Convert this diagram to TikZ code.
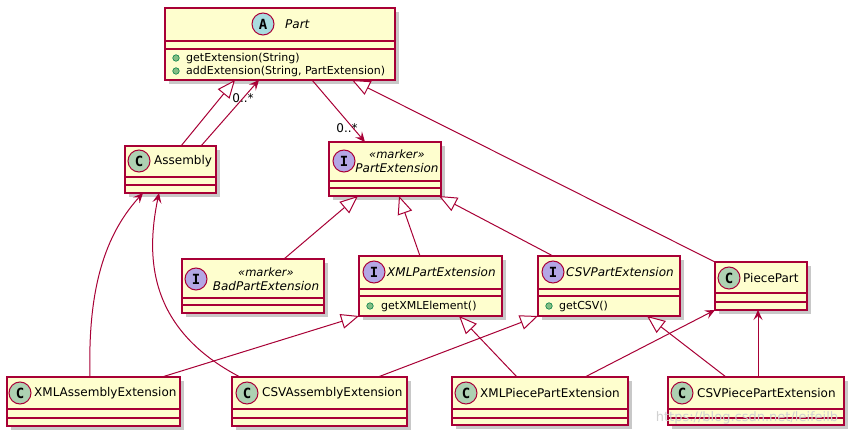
\documentclass[tikz,border=0pt]{standalone}
\usepackage{fontspec}
\setmainfont{DejaVu Sans}
\setmonofont{DejaVu Sans Mono}
\usetikzlibrary{arrows.meta,shadows}
\definecolor{bord}{HTML}{A80036}
\definecolor{bg}{HTML}{FEFECE}
\definecolor{cC}{HTML}{ADD1B2}
\definecolor{cA}{HTML}{A9DCDF}
\definecolor{cI}{HTML}{B4A7E5}
\definecolor{dotf}{HTML}{84BE84}
\definecolor{dotd}{HTML}{038048}
\newcommand{\umlbox}[6]{%
  \pgfmathsetmacro{\umlbw}{#4-#2}\pgfmathsetmacro{\umlbh}{#5-#3}%
  \node[box, minimum width=\umlbw pt, minimum height=\umlbh pt, anchor=north west] (#1) at (#2,#3) {};
  \foreach \yy in {#6} {\draw[sepline] (#2,\yy) -- (#4,\yy);}
}
\tikzset{
  box/.style={rectangle, draw=bord, fill=bg, line width=1.5pt, inner sep=0pt, outer sep=0pt,
    drop shadow={shadow xshift=4pt, shadow yshift=-4pt, opacity=0.3, fill=black!70}},
  sepline/.style={draw=bord, line width=1.5pt},
  cmark/.style={circle, draw=bord, line width=1pt, minimum size=22pt, inner sep=0pt,
    font=\ttfamily\bfseries\fontsize{14}{14}\selectfont},
  ttl/.style={anchor=west, inner sep=0pt, font=\fontsize{12}{14}\selectfont},
  ittl/.style={inner sep=0pt, font=\itshape\fontsize{12}{14}\selectfont},
  stereo/.style={inner sep=0pt, font=\itshape\fontsize{11.5}{14}\selectfont},
  meth/.style={anchor=west, inner sep=0pt, font=\fontsize{11}{13}\selectfont},
  mdot/.style={circle, fill=dotf, draw=dotd, line width=0.6pt, minimum size=6.5pt, inner sep=0pt},
  lbl/.style={inner sep=0pt, font=\fontsize{12}{14}\selectfont},
  inh/.style={draw=bord, line width=1pt, -{Triangle[length=18pt,width=15pt,fill=white,line width=1pt]}},
  assoc/.style={draw=bord, line width=1pt, -{Stealth[length=10pt,width=9pt,inset=4pt]}},
}
\begin{document}
\begin{tikzpicture}[x=1pt,y=-1pt]
\fill[white] (0,0) rectangle (854,435);
\useasboundingbox (0,0) rectangle (854,435);

% Part
\umlbox{part}{165}{8}{395}{80}{41,49}
\node[cmark, fill=cA] (partc) at (263,24) {A};
\node[ittl, anchor=west] (partt) at (285,24) {Part};
\node[mdot] (partd1) at (176,58) {};
\node[meth] (partm1) at (186,58) {getExtension(String)};
\node[mdot] (partd2) at (176,71) {};
\node[meth] (partm2) at (186,71) {addExtension(String, PartExtension)};

% Assembly
\umlbox{assembly}{125}{146}{216}{193}{177,185}
\node[cmark, fill=cC] (assemblyc) at (139,161) {C};
\node[ttl] (assemblyt) at (154,161) {Assembly};

% PartExtension
\umlbox{partext}{329}{142}{441}{196}{181,188}
\node[cmark, fill=cI] (partextc) at (344,161) {I};
\node[stereo] (partexts) at (397,154) {«marker»};
\node[ittl] (partextt) at (397,168) {PartExtension};

% BadPartExtension
\umlbox{bad}{182}{259}{324}{313}{298,305}
\node[cmark, fill=cI] (badc) at (196,279) {I};
\node[stereo] (bads) at (266,272) {«marker»};
\node[ittl] (badt) at (266,286) {BadPartExtension};

% XMLPartExtension
\umlbox{xmlpe}{359}{256}{502}{316}{289,296}
\node[cmark, fill=cI] (xmlpec) at (374,272) {I};
\node[ittl, anchor=west] (xmlpet) at (387,272) {XMLPartExtension};
\node[mdot] (xmlped) at (370,306) {};
\node[meth] (xmlpem) at (381,306) {getXMLElement()};

% CSVPartExtension
\umlbox{csvpe}{538}{256}{680}{316}{289,296}
\node[cmark, fill=cI] (csvpec) at (553,272) {I};
\node[ittl, anchor=west] (csvpet) at (566,272) {CSVPartExtension};
\node[mdot] (csvped) at (549,306) {};
\node[meth] (csvpem) at (559,306) {getCSV()};

% PiecePart
\umlbox{piece}{715}{262}{807}{310}{293,302}
\node[cmark, fill=cC] (piecec) at (729,278) {C};
\node[ttl] (piecet) at (743,278) {PiecePart};

% bottom row
\umlbox{xmlasm}{7}{377}{180}{426}{409,418}
\node[cmark, fill=cC] (xmlasmc) at (20,393) {C};
\node[ttl] (xmlasmt) at (34,393) {XMLAssemblyExtension};

\umlbox{csvasm}{232}{377}{407}{426}{409,418}
\node[cmark, fill=cC] (csvasmc) at (247,393) {C};
\node[ttl] (csvasmt) at (262,393) {CSVAssemblyExtension};

\umlbox{xmlpp}{452}{377}{628}{425}{409,418}
\node[cmark, fill=cC] (xmlppc) at (466,393) {C};
\node[ttl] (xmlppt) at (480,393) {XMLPiecePartExtension};

\umlbox{csvpp}{668}{377}{844}{425}{409,418}
\node[cmark, fill=cC] (csvppc) at (682,393) {C};
\node[ttl] (csvppt) at (697,393) {CSVPiecePartExtension};

% connectors
\draw[inh] ([xshift=56pt]assembly.north west) -- ([xshift=70pt]part.south west);
\draw[assoc] ([xshift=76pt]assembly.north west) -- ([xshift=94pt]part.south west);
\node[lbl] (l1) at (243,98) {0..*};
\draw[assoc] ([xshift=147pt]part.south west) -- ([xshift=36pt]partext.north west);
\node[lbl] (l2) at (347,128) {0..*};
\draw[inh] (piece.north west) -- ([xshift=-43pt]part.south east);

\draw[inh] ([xshift=102pt]bad.north west) -- ([xshift=29pt]partext.south west);
\draw[inh] ([xshift=61pt]xmlpe.north west) -- ([xshift=70pt]partext.south west);
\draw[inh] ([xshift=15pt]csvpe.north west) -- ([xshift=110pt]partext.south west);

\draw[assoc] ([xshift=83pt]xmlasm.north west) .. controls +(-2,-77) and +(-43,47) .. ([xshift=18pt]assembly.south west);
\draw[assoc] ([xshift=8pt]csvasm.north west) .. controls +(-90,-47) and +(-14,67) .. ([xshift=34pt]assembly.south west);

\draw[inh] ([xshift=155pt]xmlasm.north west) -- (xmlpe.south west);
\draw[inh] ([xshift=146pt]csvasm.north west) -- (csvpe.south west);
\draw[inh] ([xshift=65pt]xmlpp.north west) -- ([xshift=100pt]xmlpe.south west);
\draw[assoc] ([xshift=133pt]xmlpp.north west) -- (piece.south west);
\draw[inh] ([xshift=58pt]csvpp.north west) -- ([xshift=109pt]csvpe.south west);
\draw[assoc] ([xshift=90pt]csvpp.north west) -- ([xshift=43pt]piece.south west);

% watermark
\node[inner sep=0pt, text=black!18, font=\fontsize{13}{13}\selectfont] (wm) at (747,418) {https://blog.csdn.net/leifeilb};
\end{tikzpicture}
\end{document}
